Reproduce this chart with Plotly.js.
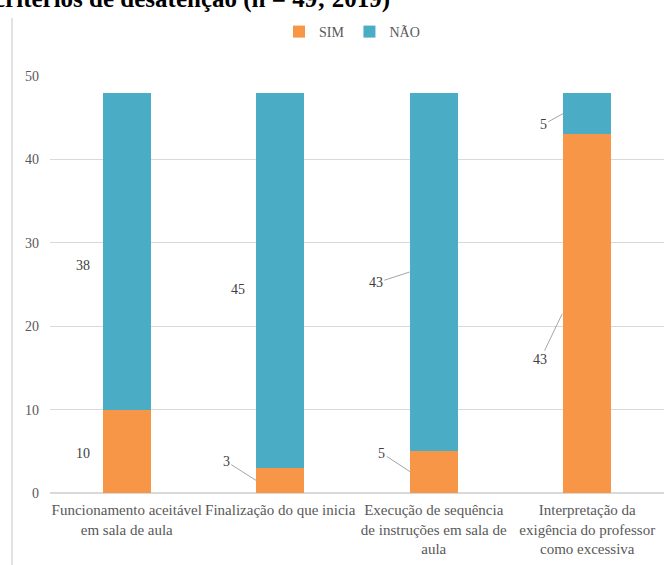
<!DOCTYPE html>
<html>
<head>
<meta charset="utf-8">
<script src="https://cdn.plot.ly/plotly-3.0.1.min.js"></script>
<style>html,body{margin:0;padding:0;background:#fff;}#chart{width:667px;height:565px;}</style>
</head>
<body>
<div id="chart"></div>
<script>
const categories = [
  "Funcionamento aceitável<br>em sala de aula",
  "Finalização do que inicia",
  "Execução de sequência<br>de instruções em sala de<br>aula",
  "Interpretação da<br>exigência do professor<br>como excessiva"
];
const simValues = [10, 3, 5, 43];
const naoValues = [38, 45, 43, 5];
const seriesNames = ["SIM", "NÃO"];
const titleText = "critérios de desatenção (n = 49; 2019)";

const orange = "#F79646", blue = "#4BACC6", txt = "#595959";
const serif = "'Liberation Serif', 'Times New Roman', serif";

const traces = [
  {type: "bar", name: seriesNames[0], x: categories, y: simValues, marker: {color: orange}, hoverinfo: "none"},
  {type: "bar", name: seriesNames[1], x: categories, y: naoValues, marker: {color: blue}, hoverinfo: "none"}
];

// label placement: [series, catIndex, showArrow, xshift, yshift, ax, ay]
const labelPlacement = [
  [1, 0, false, -44, -14, 0, 0],
  [0, 0, false, -44, -2, 0, 0],
  [1, 1, false, -42, -9, 0, 0],
  [0, 1, true, -24, 0, -30, -19],
  [1, 2, true, -24, 0, -34, 11],
  [0, 2, true, -23, 0, -29, -19],
  [0, 3, true, -25, 0, -22, 46],
  [1, 3, true, -24, 0, -20, 11]
];

const annotations = labelPlacement.map(p => {
  const [s, i, arrow, xs, ys, ax, ay] = p;
  const base = s === 0 ? 0 : simValues[i];
  const val = s === 0 ? simValues[i] : naoValues[i];
  const a = {
    x: categories[i], y: base + val / 2, xref: "x", yref: "y",
    text: String(val), xshift: xs, yshift: ys,
    font: {family: serif, size: 14, color: "#404040"},
    showarrow: arrow
  };
  if (arrow) {
    Object.assign(a, {ax: ax, ay: ay, axref: "pixel", ayref: "pixel", arrowhead: 0, arrowwidth: 1, arrowcolor: "#a6a6a6", standoff: 0, startstandoff: 0});
  }
  return a;
});

annotations.push({
  xref: "paper", yref: "paper", x: (392 - 50) / 614, y: 1 + (76 + 1) / 417,
  xanchor: "right", yanchor: "middle", showarrow: false,
  text: "<b>" + titleText + "</b>", font: {family: serif, size: 25, color: "#000"}
});

const layout = {
  width: 667, height: 565,
  margin: {l: 50, r: 3, t: 76, b: 72},
  paper_bgcolor: "#fff", plot_bgcolor: "#fff",
  font: {family: serif, color: txt},
  barmode: "stack", bargap: 0.687,
  showlegend: true,
  legend: {orientation: "h", x: (352 - 50) / 614, xanchor: "center", y: 1 + (76 - 32) / 417, yanchor: "middle",
           font: {family: serif, size: 14, color: txt}, itemwidth: 30, traceorder: "normal"},
  xaxis: {type: "category", tickfont: {family: serif, size: 15, color: txt}, showgrid: false, showline: false, ticks: "", ticklabelstandoff: 6, fixedrange: true},
  yaxis: {range: [0, 50], dtick: 10, tickfont: {family: serif, size: 14, color: txt}, gridcolor: "#d9d9d9", gridwidth: 1,
          zeroline: true, zerolinecolor: "#d9d9d9", zerolinewidth: 1.5, showline: false, ticks: "", ticklabelstandoff: 10, fixedrange: true},
  annotations: annotations,
  shapes: [{type: "line", xref: "paper", yref: "paper", x0: (12 - 50) / 614, x1: (12 - 50) / 614,
            y0: -0.2, y1: 1 + (76 - 18) / 417, line: {color: "#d9d9d9", width: 1.5}}]
};

Plotly.newPlot("chart", traces, layout, {displayModeBar: false, staticPlot: true});
</script>
</body>
</html>
